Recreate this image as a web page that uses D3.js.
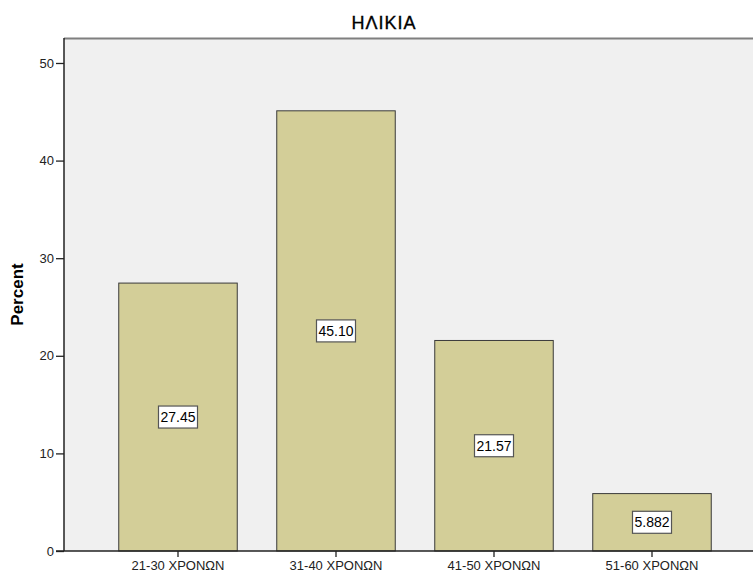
<!DOCTYPE html>
<html>
<head>
<meta charset="utf-8">
<script src="https://cdn.jsdelivr.net/npm/d3@7"></script>
<style>
  body { margin: 0; background: #fff; }
  text { font-family: "Liberation Sans", Arial, sans-serif; }
</style>
</head>
<body>
<script>
const w = 753;
const h = 574;

const categories = ["21-30 ΧΡΟΝΩΝ", "31-40 ΧΡΟΝΩΝ", "41-50 ΧΡΟΝΩΝ", "51-60 ΧΡΟΝΩΝ"];
const percents = [27.45, 45.1, 21.57, 5.882];
const valueLabels = ["27.45", "45.10", "21.57", "5.882"];
const yTicks = [0, 10, 20, 30, 40, 50];

const plotLeft = 64;
const plotTop = 38;
const plotBottom = 551;
const plotRight = 760;

const svg = d3.select("body").append("svg").attr("width", w).attr("height", h);

const xScale = d3
  .scaleBand()
  .domain(categories)
  .range([99, 731])
  .paddingInner(0.25)
  .paddingOuter(0.125);

const yScale = d3.scaleLinear().domain([0, 52.56]).range([plotBottom, plotTop]);

// plot background
svg
  .append("rect")
  .attr("x", plotLeft)
  .attr("y", plotTop)
  .attr("width", plotRight - plotLeft)
  .attr("height", plotBottom - plotTop)
  .attr("fill", "#f0f0f0");

svg
  .append("line")
  .attr("x1", plotLeft)
  .attr("x2", plotRight)
  .attr("y1", plotTop + 0.5)
  .attr("y2", plotTop + 0.5)
  .attr("stroke", "#7f7f7f")
  .attr("stroke-width", 2);

// title
svg
  .append("text")
  .attr("x", 384)
  .attr("y", 29)
  .attr("text-anchor", "middle")
  .attr("font-size", 18)
  .attr("letter-spacing", 1)
  .attr("fill", "#000")
  .attr("stroke", "#000")
  .attr("stroke-width", 0.35)
  .text("ΗΛΙΚΙΑ");

// bars
svg
  .selectAll(".bar")
  .data(percents)
  .enter()
  .append("rect")
  .attr("class", "bar")
  .attr("x", (d, i) => xScale(categories[i]))
  .attr("y", (d) => yScale(d))
  .attr("width", xScale.bandwidth())
  .attr("height", (d) => plotBottom - yScale(d))
  .attr("fill", "#d3ce98")
  .attr("stroke", "#3a3a3a")
  .attr("stroke-width", 1);

// value labels in boxes
const labels = svg
  .selectAll(".vlabel")
  .data(percents)
  .enter()
  .append("g")
  .attr("class", "vlabel")
  .attr(
    "transform",
    (d, i) =>
      `translate(${xScale(categories[i]) + xScale.bandwidth() / 2}, ${(yScale(d) + plotBottom) / 2})`
  );

labels
  .append("rect")
  .attr("x", -19.5)
  .attr("y", -11)
  .attr("width", 39)
  .attr("height", 22)
  .attr("fill", "#fff")
  .attr("stroke", "#555")
  .attr("stroke-width", 1.2);

labels
  .append("text")
  .attr("text-anchor", "middle")
  .attr("y", 5)
  .attr("font-size", 14)
  .attr("fill", "#000")
  .text((d, i) => valueLabels[i]);

// axes
const yAxis = d3.axisLeft(yScale).tickValues(yTicks).tickSize(8).tickPadding(2);
const yG = svg
  .append("g")
  .attr("transform", `translate(${plotLeft}, 0)`)
  .call(yAxis);
yG.select(".domain").remove();
yG.selectAll(".tick line").attr("stroke", "#222").attr("stroke-width", 1.3);
yG.selectAll("text").attr("font-size", 13).attr("fill", "#222").style("font-family", "Liberation Sans, Arial, sans-serif");

svg
  .append("line")
  .attr("x1", plotLeft)
  .attr("x2", plotLeft)
  .attr("y1", plotTop)
  .attr("y2", plotBottom)
  .attr("stroke", "#222")
  .attr("stroke-width", 1.5);

const xAxis = d3.axisBottom(xScale).tickSize(6).tickPadding(4);
const xG = svg
  .append("g")
  .attr("transform", `translate(0, ${plotBottom})`)
  .call(xAxis);
xG.select(".domain").remove();
xG.selectAll(".tick line").attr("stroke", "#222").attr("stroke-width", 1.3);
xG.selectAll("text").attr("font-size", 13).attr("fill", "#222").style("font-family", "Liberation Sans, Arial, sans-serif");

svg
  .append("line")
  .attr("x1", plotLeft - 8)
  .attr("x2", plotRight)
  .attr("y1", plotBottom)
  .attr("y2", plotBottom)
  .attr("stroke", "#222")
  .attr("stroke-width", 1.5);

// y label
svg
  .append("text")
  .attr("transform", `translate(23, ${(plotTop + plotBottom) / 2}) rotate(-90)`)
  .attr("text-anchor", "middle")
  .attr("font-size", 17)
  .attr("font-weight", "bold")
  .attr("fill", "#000")
  .text("Percent");
</script>
</body>
</html>
